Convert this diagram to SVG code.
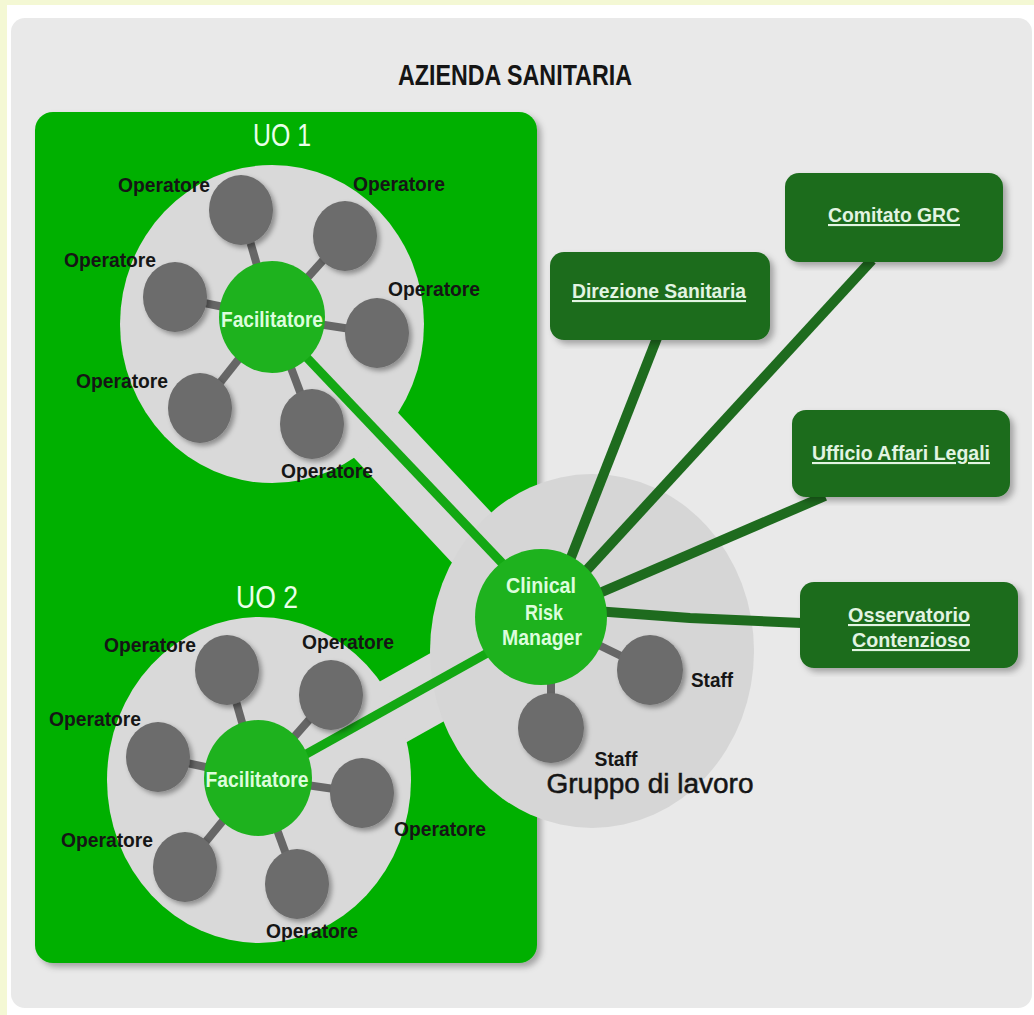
<svg xmlns="http://www.w3.org/2000/svg" width="1034" height="1015" viewBox="0 0 1034 1015">
<defs>
<filter id="sh" x="-30%" y="-30%" width="160%" height="160%"><feDropShadow dx="3" dy="3" stdDeviation="2.5" flood-color="#000" flood-opacity="0.35"/></filter>
<filter id="shb" x="-10%" y="-10%" width="120%" height="120%"><feDropShadow dx="4" dy="4" stdDeviation="3" flood-color="#000" flood-opacity="0.3"/></filter>
<style>
.op{fill:#6c6c6c;filter:url(#sh)}
.lab{font-family:"Liberation Sans",Arial,sans-serif;font-weight:bold;font-size:21px;fill:#151515;text-anchor:middle}
.fac{fill:#1eb21e}
.ftxt{font-family:"Liberation Sans",Arial,sans-serif;font-weight:bold;font-size:22px;fill:#dcfddc;text-anchor:middle}
.uo{font-family:"Liberation Sans",Arial,sans-serif;font-size:31px;fill:#eaffea;text-anchor:middle}
.box{fill:#1c6c1c;filter:url(#shb)}
.btxt{font-family:"Liberation Sans",Arial,sans-serif;font-weight:bold;font-size:21px;fill:#e2f4e2;text-anchor:middle;text-decoration:underline}
.spoke{stroke:#666;stroke-width:8}
.gl{stroke:#13a813;stroke-width:9;fill:none}
.dl{stroke:#1e6b1e;stroke-width:10;fill:none}
.blk{font-family:"Liberation Sans",Arial,sans-serif;fill:#151515;text-anchor:middle}
</style>
</defs>
<rect x="0" y="0" width="1034" height="1015" fill="#ffffff"/>
<rect x="0" y="0" width="1034" height="5" fill="#f4f8d4"/>
<rect x="0" y="0" width="7" height="1015" fill="#f4f8d4"/>
<rect x="11" y="18" width="1021" height="990" rx="14" fill="#e9e9e9"/>
<text x="515" y="85" class="blk" font-weight="bold" font-size="30" textLength="234" lengthAdjust="spacingAndGlyphs">AZIENDA SANITARIA</text>

<g id="uo-area">
<rect x="35" y="112" width="502" height="851" rx="18" fill="#04b004" filter="url(#shb)"/>
</g>

<g id="background-shapes">
<line x1="272" y1="324" x2="560" y2="632" stroke="#d9d9d9" stroke-width="63"/>
<line x1="259" y1="787" x2="541" y2="629" stroke="#d9d9d9" stroke-width="66"/>
<ellipse cx="272" cy="324" rx="152" ry="159" fill="#d9d9d9"/>
<ellipse cx="259" cy="780" rx="152" ry="163" fill="#d9d9d9"/>
<ellipse cx="592" cy="651" rx="162" ry="177" fill="#d6d6d6"/>
</g>

<g id="connectors">
<line class="gl" x1="272" y1="321" x2="541" y2="604"/>
<line class="gl" x1="258" y1="781" x2="541" y2="623"/>
<line class="dl" x1="657" y1="338" x2="570" y2="560"/>
<line class="dl" x1="872" y1="260" x2="585" y2="572"/>
<line class="dl" x1="825" y1="496" x2="595" y2="595"/>
<polyline class="dl" points="595,611 690,618 802,623"/>
<line class="spoke" x1="272" y1="317" x2="241" y2="210"/>
<line class="spoke" x1="272" y1="317" x2="345" y2="236"/>
<line class="spoke" x1="272" y1="317" x2="175" y2="297"/>
<line class="spoke" x1="272" y1="317" x2="377" y2="333"/>
<line class="spoke" x1="272" y1="317" x2="200" y2="408"/>
<line class="spoke" x1="272" y1="317" x2="312" y2="424"/>
<line class="spoke" x1="258" y1="778" x2="227" y2="670"/>
<line class="spoke" x1="258" y1="778" x2="331" y2="695"/>
<line class="spoke" x1="258" y1="778" x2="158" y2="757"/>
<line class="spoke" x1="258" y1="778" x2="362" y2="793"/>
<line class="spoke" x1="258" y1="778" x2="185" y2="867"/>
<line class="spoke" x1="258" y1="778" x2="297" y2="884"/>
<line class="spoke" x1="541" y1="617" x2="650" y2="670"/>
<line class="spoke" x1="551" y1="617" x2="551" y2="728"/>
</g>

<g id="uo1-label"><text class="uo" x="282" y="146" textLength="58" lengthAdjust="spacingAndGlyphs">UO 1</text></g>
<g id="uo2-label"><text class="uo" x="267" y="608" textLength="62" lengthAdjust="spacingAndGlyphs">UO 2</text></g>

<g id="uo1-op1"><ellipse class="op" cx="241" cy="210" rx="32" ry="35"/><text class="lab" x="164" y="192" textLength="92" lengthAdjust="spacingAndGlyphs">Operatore</text></g>
<g id="uo1-op2"><ellipse class="op" cx="345" cy="236" rx="32" ry="35"/><text class="lab" x="399" y="191" textLength="92" lengthAdjust="spacingAndGlyphs">Operatore</text></g>
<g id="uo1-op3"><ellipse class="op" cx="175" cy="297" rx="32" ry="35"/><text class="lab" x="110" y="267" textLength="92" lengthAdjust="spacingAndGlyphs">Operatore</text></g>
<g id="uo1-op4"><ellipse class="op" cx="377" cy="333" rx="32" ry="35"/><text class="lab" x="434" y="296" textLength="92" lengthAdjust="spacingAndGlyphs">Operatore</text></g>
<g id="uo1-op5"><ellipse class="op" cx="200" cy="408" rx="32" ry="35"/><text class="lab" x="122" y="388" textLength="92" lengthAdjust="spacingAndGlyphs">Operatore</text></g>
<g id="uo1-op6"><ellipse class="op" cx="312" cy="424" rx="32" ry="35"/><text class="lab" x="327" y="478" textLength="92" lengthAdjust="spacingAndGlyphs">Operatore</text></g>
<g id="uo1-facilitatore"><ellipse class="fac" cx="272" cy="317" rx="53" ry="56"/><text class="ftxt" x="272" y="327" textLength="102" lengthAdjust="spacingAndGlyphs">Facilitatore</text></g>

<g id="uo2-op1"><ellipse class="op" cx="227" cy="670" rx="32" ry="35"/><text class="lab" x="150" y="652" textLength="92" lengthAdjust="spacingAndGlyphs">Operatore</text></g>
<g id="uo2-op2"><ellipse class="op" cx="331" cy="695" rx="32" ry="35"/><text class="lab" x="348" y="649" textLength="92" lengthAdjust="spacingAndGlyphs">Operatore</text></g>
<g id="uo2-op3"><ellipse class="op" cx="158" cy="757" rx="32" ry="35"/><text class="lab" x="95" y="726" textLength="92" lengthAdjust="spacingAndGlyphs">Operatore</text></g>
<g id="uo2-op4"><ellipse class="op" cx="362" cy="793" rx="32" ry="35"/><text class="lab" x="440" y="836" textLength="92" lengthAdjust="spacingAndGlyphs">Operatore</text></g>
<g id="uo2-op5"><ellipse class="op" cx="185" cy="867" rx="32" ry="35"/><text class="lab" x="107" y="847" textLength="92" lengthAdjust="spacingAndGlyphs">Operatore</text></g>
<g id="uo2-op6"><ellipse class="op" cx="297" cy="884" rx="32" ry="35"/><text class="lab" x="312" y="938" textLength="92" lengthAdjust="spacingAndGlyphs">Operatore</text></g>
<g id="uo2-facilitatore"><ellipse class="fac" cx="258" cy="778" rx="54" ry="58"/><text class="ftxt" x="257" y="787" textLength="103" lengthAdjust="spacingAndGlyphs">Facilitatore</text></g>

<g id="staff1"><ellipse class="op" cx="650" cy="670" rx="33" ry="35"/><text class="blk" font-weight="bold" font-size="21" x="712" y="687" textLength="42" lengthAdjust="spacingAndGlyphs">Staff</text></g>
<g id="staff2"><ellipse class="op" cx="551" cy="728" rx="33" ry="35"/><text class="blk" font-weight="bold" font-size="21" x="616" y="766" textLength="43" lengthAdjust="spacingAndGlyphs">Staff</text></g>
<g id="gruppo-label"><text class="blk" font-size="27" stroke="#151515" stroke-width="0.5" x="650" y="793" textLength="207" lengthAdjust="spacingAndGlyphs">Gruppo di lavoro</text></g>

<g id="clinical-risk-manager"><ellipse class="fac" cx="541" cy="617" rx="66" ry="68"/>
<text class="ftxt" x="541" y="593" textLength="70" lengthAdjust="spacingAndGlyphs">Clinical</text>
<text class="ftxt" x="544" y="620" textLength="38" lengthAdjust="spacingAndGlyphs">Risk</text>
<text class="ftxt" x="542" y="645" textLength="80" lengthAdjust="spacingAndGlyphs">Manager</text></g>

<g id="direzione-sanitaria"><rect class="box" x="550" y="252" width="220" height="88" rx="14"/><text class="btxt" x="659" y="298" textLength="174" lengthAdjust="spacingAndGlyphs">Direzione Sanitaria</text></g>
<g id="comitato-grc"><rect class="box" x="785" y="173" width="218" height="89" rx="14"/><text class="btxt" x="894" y="222" textLength="132" lengthAdjust="spacingAndGlyphs">Comitato GRC</text></g>
<g id="ufficio-affari-legali"><rect class="box" x="792" y="410" width="218" height="87" rx="14"/><text class="btxt" x="901" y="460" textLength="178" lengthAdjust="spacingAndGlyphs">Ufficio Affari Legali</text></g>
<g id="osservatorio-contenzioso"><rect class="box" x="800" y="582" width="218" height="86" rx="14"/><text class="btxt" x="909" y="622" textLength="122" lengthAdjust="spacingAndGlyphs">Osservatorio</text><text class="btxt" x="911" y="647" textLength="118" lengthAdjust="spacingAndGlyphs">Contenzioso</text></g>
</svg>
